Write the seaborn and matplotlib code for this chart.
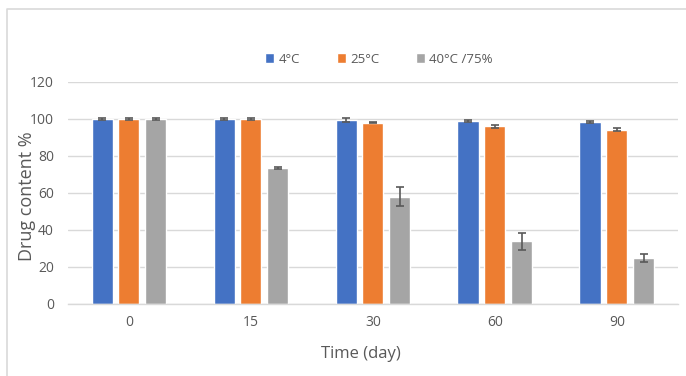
import numpy as np
import pandas as pd
import seaborn as sns
import matplotlib.pyplot as plt
from matplotlib.lines import Line2D

days = ["0", "15", "30", "60", "90"]
conditions = ["4°C", "25°C", "40°C /75%"]
content_4c = [100.0, 100.0, 99.5, 98.9, 98.4]
content_25c = [100.0, 100.0, 98.0, 96.0, 94.3]
content_40c = [100.0, 73.6, 58.0, 34.0, 25.0]
err_4c = [0.5, 0.5, 1.0, 0.5, 0.5]
err_25c = [0.3, 0.5, 0.4, 0.8, 0.9]
err_40c = [0.6, 0.4, 5.0, 4.6, 2.2]
colors = ["#4472C4", "#ED7D31", "#A5A5A5"]

means = [content_4c, content_25c, content_40c]
errs = [err_4c, err_25c, err_40c]
df = pd.DataFrame({
    "day": days * 3,
    "condition": np.repeat(conditions, len(days)),
    "content": np.concatenate(means),
    "err": np.concatenate(errs),
})

sns.set_style("white")
plt.rcParams["font.family"] = ["Open Sans", "DejaVu Sans"]

fig = plt.figure(figsize=(6.86, 3.76), dpi=100)
ax = fig.add_axes([0.0991, 0.1915, 0.8892, 0.5905])

bp = sns.barplot(data=df, x="day", y="content", hue="condition", order=days,
                 hue_order=conditions, palette=colors, width=0.663, gap=0.22,
                 errorbar=None, saturation=1, ax=ax)

# error bars placed at the centres of the drawn bars
for cont, cond in zip(bp.containers, conditions):
    sub = df[df["condition"] == cond].set_index("day").loc[days]
    xs = [p.get_x() + p.get_width() / 2 for p in cont.patches]
    ax.errorbar(xs, sub["content"], yerr=sub["err"], fmt="none",
                ecolor="#595959", elinewidth=1.2, capsize=3, capthick=1.2, zorder=5)

ax.set_ylim(0, 120)
ax.set_yticks(range(0, 121, 20))
ax.set_xlim(-0.5, 4.5)
ax.yaxis.grid(True, color="#d9d9d9", linewidth=1)
ax.set_axisbelow(True)
for s in ["left", "right", "top"]:
    ax.spines[s].set_visible(False)
ax.spines["bottom"].set_color("#d9d9d9")
ax.spines["bottom"].set_linewidth(1)
ax.tick_params(axis="both", length=0, labelsize=10, labelcolor="#595959", pad=10)
ax.tick_params(axis="x", pad=8)

ax.set_xlabel("Time (day)", fontsize=12, color="#595959", va="center")
ax.set_ylabel("Drug content %", fontsize=13, color="#595959", va="center")
ax.xaxis.set_label_coords(0.480, -0.225)
ax.yaxis.set_label_coords(-0.067, 0.486)

ax.legend(loc="lower center", bbox_to_anchor=(0.51, 1.02), ncol=3, frameon=False,
          fontsize=9.5, labelcolor="#595959", handlelength=0.7, handleheight=0.7,
          handletextpad=0.3, columnspacing=2.8)

# chart frame
fig.add_artist(Line2D([7 / 686, 7 / 686, 1], [0, 1 - 9 / 376, 1 - 9 / 376],
                      color="#d9d9d9", linewidth=1.2))

fig.savefig("out.png", dpi=100)
